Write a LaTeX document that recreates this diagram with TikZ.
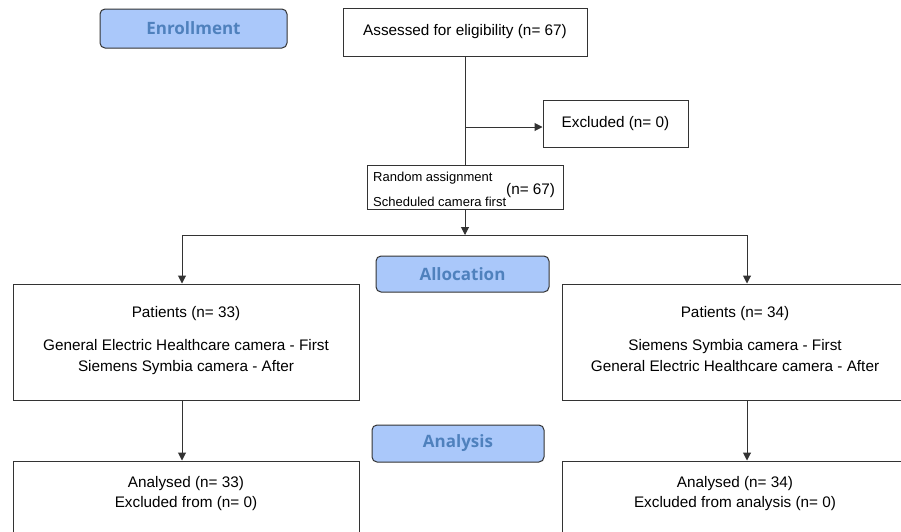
\documentclass[tikz,border=0pt]{standalone}
\usepackage{fontspec}
\setmainfont{Liberation Sans}
\newfontfamily\headfont{Open Sans}
\usetikzlibrary{arrows.meta}
\definecolor{linec}{HTML}{333333}
\definecolor{headfill}{RGB}{170,200,250}
\definecolor{headtext}{RGB}{79,129,189}
\newcommand{\patlines}[3]{\vbox{\baselineskip=21pt
  \hbox to 0pt{\hss #1\hss}\vskip 12pt
  \hbox to 0pt{\hss #2\hss}
  \hbox to 0pt{\hss #3\hss}}}
\begin{document}
\begin{tikzpicture}[x=1pt,y=-1pt,
  box/.style={draw=linec, line width=1pt, fill=white, inner sep=0pt, align=center,
    font=\fontsize{15.3}{20}\selectfont},
  txt/.style={inner sep=0pt, align=center, font=\fontsize{15.3}{20}\selectfont},
  head/.style={draw=linec, line width=1pt, fill=headfill, rounded corners=5pt, inner sep=0pt,
    font=\headfont\bfseries\fontsize{17}{20}\selectfont, text=headtext},
  conn/.style={draw=linec, line width=1pt},
  arr/.style={conn, -{Triangle[width=8pt,length=8pt]}}]
\useasboundingbox (0,0) rectangle (901,531);
\clip (0,0) rectangle (901,531);
\fill[white] (0,0) rectangle (901,531);

% headings
\node[head, minimum width=187pt, minimum height=39pt] (enroll) at (193.5,28.5) {Enrollment};
\node[head, minimum width=173pt, minimum height=36pt] (alloc) at (462.5,274) {Allocation};
\node[head, minimum width=172pt, minimum height=37pt] (anal) at (458,443.5) {Analysis};

% boxes
\node[box, minimum width=244pt, minimum height=48pt] (assess) at (465,32) {Assessed for eligibility (n= 67)};
\node[box, minimum width=145pt, minimum height=47pt] (excl) at (615.5,123.5) {Excluded (n= 0)};
\node[box, minimum width=196pt, minimum height=44pt] (rand) at (465,187) {};
\node[inner sep=0pt, anchor=base west, font=\fontsize{13}{25}\selectfont] (randtxt) at (373,206.5)
  {\vbox{\baselineskip=25pt\hbox{Random assignment}\hbox{Scheduled camera first}}\raisebox{12pt}{\fontsize{15.3}{18}\selectfont(n= 67)}};

\node[box, minimum width=346pt, minimum height=116pt] (lpat) at (186,342) {};
\node[inner sep=0pt, anchor=base, font=\fontsize{15.3}{21}\selectfont] (lpattxt) at (186,371.5)
  {\patlines{Patients (n= 33)}{General Electric Healthcare camera - First}{Siemens Symbia camera - After}};
\node[box, minimum width=346pt, minimum height=116pt] (rpat) at (735,342) {};
\node[inner sep=0pt, anchor=base, font=\fontsize{15.3}{21}\selectfont] (rpattxt) at (735,371.5)
  {\patlines{Patients (n= 34)}{Siemens Symbia camera - First}{General Electric Healthcare camera - After}};

\node[box, minimum width=346pt, minimum height=100pt] (lana) at (186,511) {};
\node[txt, anchor=north] (lanatxt) at (186,476.5) {Analysed (n= 33)\\Excluded from (n= 0)};
\node[box, minimum width=346pt, minimum height=100pt] (rana) at (735,511) {};
\node[txt, anchor=north] (ranatxt) at (735,476.5) {Analysed (n= 34)\\Excluded from analysis (n= 0)};

% connectors
\coordinate (br) at (465,127);
\coordinate (split) at (465,235);
\coordinate (hl) at (182,235);
\coordinate (hr) at (747,235);
\draw[conn] (assess.south) -- (rand.north);
\draw[arr] (br) -- (br -| excl.west);
\draw[arr] (rand.south) -- (split);
\draw[conn] (hl) -- (hr);
\draw[arr] (hl) -- (hl |- lpat.north);
\draw[arr] (hr) -- (hr |- rpat.north);
\draw[arr] (hl |- lpat.south) -- (hl |- lana.north);
\draw[arr] (hr |- rpat.south) -- (hr |- rana.north);
\end{tikzpicture}
\end{document}
